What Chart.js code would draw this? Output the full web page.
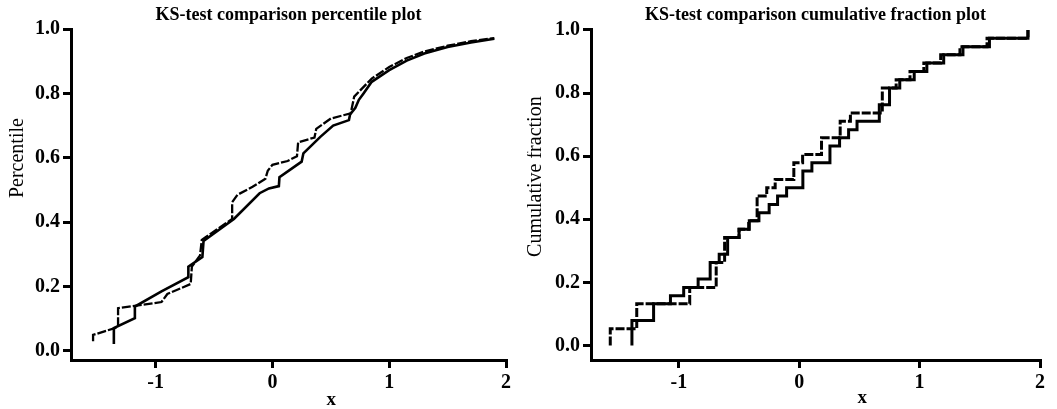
<!DOCTYPE html>
<html>
<head>
<meta charset="utf-8">
<script src="https://cdn.jsdelivr.net/npm/chart.js@4/dist/chart.umd.min.js"></script>
<style>
  body { margin: 0; background: #fff; }
  canvas { position: absolute; top: 0; }
  #pctChart { left: 0; }
  #cfChart { left: 527px; }
</style>
</head>
<body>
<canvas id="pctChart" width="527" height="409"></canvas>
<canvas id="cfChart" width="530" height="409"></canvas>
<script>
// tick labels
const xTicks = [-1, 0, 1, 2];
const yTicks = [0, 0.2, 0.4, 0.6, 0.8, 1.0];

// left: percentile plot, two samples
const pctSolidX = [-1.358, -1.358, -1.178, -1.178, -0.95, -0.72, -0.72, -0.60, -0.59, -0.33, -0.11, -0.03, 0.055, 0.06, 0.25, 0.265, 0.41, 0.52, 0.655, 0.665, 0.71, 0.74, 0.78, 0.85, 1.0, 1.15, 1.3, 1.5, 1.7, 1.9];
const pctSolidY = [0.022, 0.071, 0.102, 0.138, 0.185, 0.229, 0.262, 0.292, 0.342, 0.41, 0.49, 0.505, 0.512, 0.54, 0.588, 0.614, 0.665, 0.70, 0.717, 0.735, 0.755, 0.78, 0.80, 0.836, 0.872, 0.902, 0.924, 0.944, 0.958, 0.970];
const pctDashX = [-1.536, -1.536, -1.35, -1.322, -1.322, -1.18, -0.95, -0.90, -0.70, -0.69, -0.62, -0.605, -0.345, -0.345, -0.30, -0.17, -0.06, -0.04, 0.0, 0.13, 0.21, 0.22, 0.36, 0.375, 0.50, 0.67, 0.70, 0.85, 1.0, 1.15, 1.3, 1.5, 1.7, 1.9];
const pctDashY = [0.030, 0.050, 0.071, 0.076, 0.133, 0.140, 0.152, 0.177, 0.208, 0.262, 0.297, 0.345, 0.41, 0.462, 0.485, 0.51, 0.535, 0.56, 0.578, 0.59, 0.605, 0.648, 0.663, 0.69, 0.722, 0.738, 0.79, 0.846, 0.882, 0.91, 0.93, 0.948, 0.962, 0.972];

// right: cumulative fraction (step), first point is the start at 0
const cfSolidX = [-1.39, -1.39, -1.21, -1.07, -0.96, -0.84, -0.74, -0.665, -0.595, -0.50, -0.415, -0.335, -0.25, -0.18, -0.105, 0.03, 0.105, 0.255, 0.335, 0.41, 0.48, 0.665, 0.75, 0.835, 0.955, 1.06, 1.20, 1.36, 1.58, 1.90];
const cfSolidY = [0, 0.079, 0.132, 0.158, 0.184, 0.211, 0.263, 0.289, 0.342, 0.368, 0.395, 0.421, 0.447, 0.474, 0.5, 0.553, 0.579, 0.632, 0.658, 0.684, 0.711, 0.763, 0.816, 0.842, 0.868, 0.895, 0.921, 0.947, 0.974, 1.0];
const cfDashX = [-1.57, -1.57, -1.35, -0.91, -0.69, -0.62, -0.50, -0.42, -0.35, -0.27, -0.20, -0.045, 0.028, 0.185, 0.34, 0.425, 0.69, 0.805, 0.92, 1.035, 1.175, 1.335, 1.56, 1.90];
const cfDashY = [0, 0.053, 0.132, 0.184, 0.263, 0.342, 0.368, 0.395, 0.474, 0.5, 0.526, 0.579, 0.605, 0.658, 0.711, 0.737, 0.816, 0.842, 0.868, 0.895, 0.921, 0.947, 0.974, 1.0];

const pts = (xs, ys) => xs.map((x, i) => ({ x: x, y: ys[i] }));
const serif = "'Liberation Serif', 'Times New Roman', serif";

// axis titles sit off-centre in the original, so draw them by hand
const axisTitles = {
  id: "axisTitles",
  afterDraw(chart, args, opts) {
    const { ctx, chartArea } = chart;
    ctx.save();
    ctx.fillStyle = "#000";
    ctx.textAlign = "center";
    ctx.textBaseline = "middle";
    ctx.font = "bold 19px " + serif;
    ctx.fillText(opts.x, chartArea.left + opts.xAt * chartArea.width, opts.xTop);
    ctx.font = "20px " + serif;
    ctx.translate(opts.yLeft, chartArea.top + opts.yAt * chartArea.height);
    ctx.rotate(-Math.PI / 2);
    ctx.fillText(opts.y, 0, 0);
    ctx.restore();
  },
};

function scaleOpts(min, max, ticks, size, fmt) {
  return {
    type: "linear",
    min: min,
    max: max,
    afterBuildTicks: (s) => { s.ticks = ticks.map((v) => ({ value: v })); },
    afterFit: size,
    ticks: {
      color: "#000",
      font: { family: serif, size: 20, weight: "bold" },
      padding: 3,
      maxRotation: 0,
      callback: fmt,
    },
    grid: {
      drawOnChartArea: false,
      drawTicks: true,
      tickLength: 8,
      tickWidth: 3,
      lineWidth: 3,
      tickColor: "#000",
      color: "#000",
    },
    border: { display: true, width: 3, color: "#000" },
  };
}

function makeOptions(title, xMin, yMin, yMax, yAxisW, padRight, labels) {
  return {
    responsive: false,
    animation: false,
    devicePixelRatio: 1,
    layout: { padding: { left: 0, right: padRight, top: 0, bottom: 0 } },
    plugins: {
      legend: { display: false },
      tooltip: { enabled: false },
      title: {
        display: true,
        text: title,
        fullSize: false,
        color: "#000",
        font: { family: serif, size: 18, weight: "bold" },
        padding: { top: 5, bottom: 2.4 },
      },
      axisTitles: labels,
    },
    scales: {
      x: scaleOpts(xMin, 2, xTicks, (s) => { s.height = 49; }, (v) => String(v)),
      y: scaleOpts(yMin, yMax, yTicks, (s) => { s.width = yAxisW; }, (v) => v.toFixed(1)),
    },
  };
}

new Chart(document.getElementById("pctChart"), {
  type: "line",
  data: {
    datasets: [
      { data: pts(pctSolidX, pctSolidY), borderColor: "#000", borderWidth: 2.6, pointRadius: 0, fill: false },
      { data: pts(pctDashX, pctDashY), borderColor: "#000", borderWidth: 2.3, borderDash: [9, 2], pointRadius: 0, fill: false },
    ],
  },
  options: makeOptions("KS-test comparison percentile plot", -1.725, -0.028, 1.0, 71, 21,
    { x: "x", y: "Percentile", xAt: 0.598, xTop: 400, yLeft: 18, yAt: 0.39 }),
  plugins: [axisTitles],
});

new Chart(document.getElementById("cfChart"), {
  type: "line",
  data: {
    datasets: [
      { data: pts(cfSolidX, cfSolidY), stepped: "before", borderColor: "#000", borderWidth: 3, pointRadius: 0, fill: false },
      { data: pts(cfDashX, cfDashY), stepped: "before", borderColor: "#000", borderWidth: 3, borderDash: [9, 2], pointRadius: 0, fill: false },
    ],
  },
  options: makeOptions("KS-test comparison cumulative fraction plot", -1.73, -0.046, 1.003, 64, 17,
    { x: "x", y: "Cumulative fraction", xAt: 0.604, xTop: 398, yLeft: 9, yAt: 0.446 }),
  plugins: [axisTitles],
});
</script>
</body>
</html>
